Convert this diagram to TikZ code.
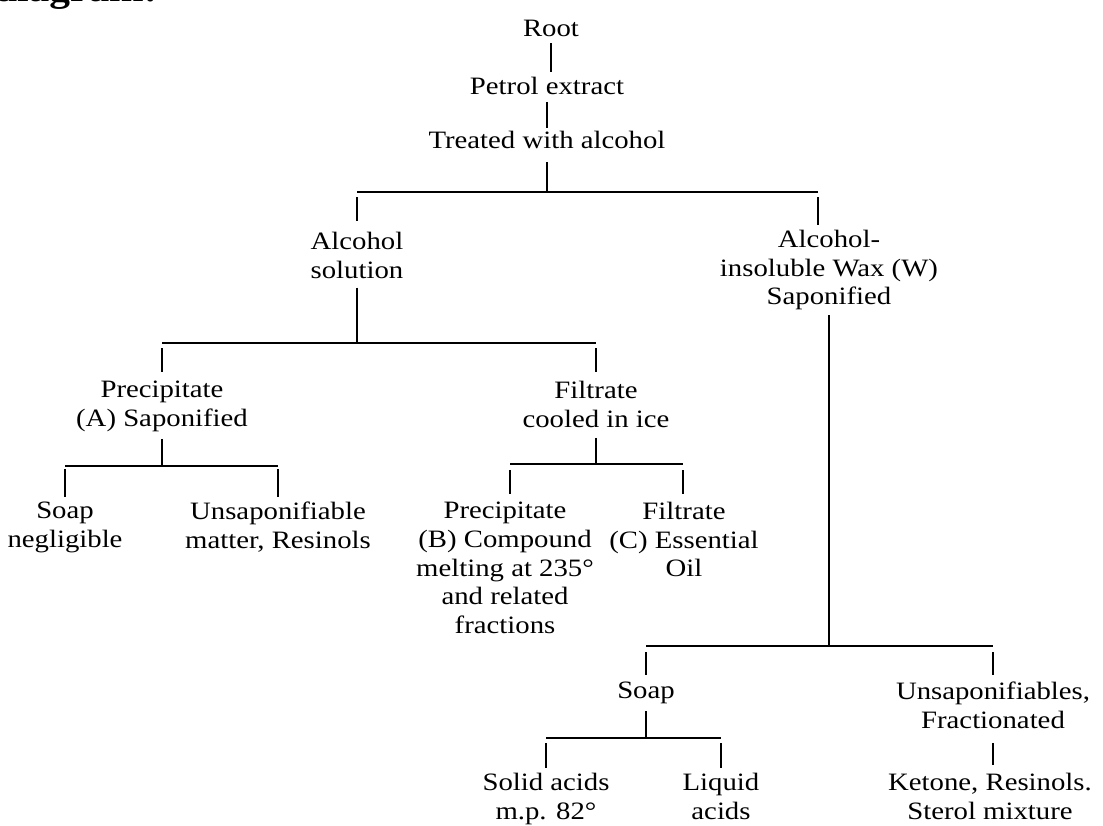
\documentclass[tikz,border=0pt]{standalone}
\usepackage{fontspec}
\setmainfont{Liberation Serif}[FakeStretch=1.15]
\begin{document}
\begin{tikzpicture}[x=1pt,y=-1pt,
  lbl/.style={anchor=north,inner sep=0pt,align=center,font=\fontsize{25}{28.7}\selectfont},
  ln/.style={line width=1.4pt},
  thick line/.style={line width=2.6pt}]
\useasboundingbox (0,0) rectangle (1103,825);
% fragment of the preceding text line
\node[anchor=base west,inner sep=0pt,font=\fontsize{36}{40}\selectfont\bfseries] (frag) at (-6,1) {diagram:};
% nodes
\node[lbl] (root)   at (551,20)  {Root};
\node[lbl] (petrol) at (547,77)  {Petrol extract};
\node[lbl] (treat)  at (547,131) {Treated with alcohol};
\node[lbl] (alc)    at (357,232) {Alcohol\\solution};
\node[lbl] (wax)    at (829,230) {Alcohol-\\insoluble Wax (W)\\Saponified};
\node[lbl] (precA)  at (162,381) {Precipitate\\(A) Saponified};
\node[lbl] (filt)   at (596,381) {Filtrate\\cooled in ice};
\node[lbl] (soapA)  at (65,502)  {Soap\\negligible};
\node[lbl] (unsapA) at (278,502) {Unsaponifiable\\matter, Resinols};
\node[lbl] (precB)  at (505,502) {Precipitate\\(B) Compound\\melting at 235°\\and related\\fractions};
\node[lbl] (filtC)  at (684,502) {Filtrate\\(C) Essential\\Oil};
\node[lbl] (soapW)  at (646,682) {Soap};
\node[lbl] (unsapW) at (993,682) {Unsaponifiables,\\Fractionated};
\node[lbl] (solid)  at (546,773) {Solid acids\\m.p. 82°};
\node[lbl] (liquid) at (721,773) {Liquid\\acids};
\node[lbl] (ketone) at (990,773) {Ketone, Resinols.\\Sterol mixture};
% bar levels
\coordinate (b1) at (552,192);
\coordinate (wL) at (818,192);
\coordinate (b2) at (357,343);
\coordinate (b3) at (162,466);
\coordinate (b4) at (596,464);
\coordinate (b5) at (829,646);
\coordinate (b6) at (646,738);
\coordinate (dB) at (510,464);
\coordinate (dC) at (683,464);
% trunk
\draw[ln] ([yshift=-6pt]root.south) -- ([yshift=5pt]root.south |- petrol.north);
\draw[ln] ([yshift=-7pt]petrol.south) -- ([yshift=3pt]petrol.south |- treat.north);
\draw[ln] ([yshift=-13pt]treat.south) -- (treat.south |- b1);
% level 1
\draw[ln] (alc.north |- b1) -- (wL);
\draw[ln] ([yshift=-5pt]alc.north |- b1) -- ([yshift=11pt]alc.north);
\draw[ln] ([yshift=-5pt]wL) -- ([yshift=5pt]wL |- wax.north);
% alcohol solution
\draw[ln] ([yshift=-9pt]alc.south) -- (b2);
\draw[ln] (precA.north |- b2) -- (filt.north |- b2);
\draw[ln] ([yshift=-5pt]precA.north |- b2) -- ([yshift=9pt]precA.north);
\draw[ln] ([yshift=-5pt]filt.north |- b2) -- ([yshift=9pt]filt.north);
% precipitate A
\draw[ln] ([yshift=-7pt]precA.south) -- (b3);
\draw[ln] (soapA.north |- b3) -- (unsapA.north |- b3);
\draw[ln] ([yshift=-3pt]soapA.north |- b3) -- ([yshift=5pt]soapA.north);
\draw[ln] ([yshift=-3pt]unsapA.north |- b3) -- ([yshift=5pt]unsapA.north);
% filtrate
\draw[ln] ([yshift=-10pt]filt.south) -- (b4);
\draw[ln] (dB) -- (dC);
\draw[ln] ([yshift=-6pt]dB) -- ([yshift=8pt]dB |- precB.north);
\draw[ln] ([yshift=-6pt]dC) -- ([yshift=8pt]dC |- filtC.north);
% wax
\draw[thick line] ([yshift=-5pt]wax.south) -- (b5);
\draw[ln] (soapW.north |- b5) -- (unsapW.north |- b5);
\draw[ln] ([yshift=-6pt]soapW.north |- b5) -- ([yshift=7pt]soapW.north);
\draw[ln] ([yshift=-6pt]unsapW.north |- b5) -- ([yshift=7pt]unsapW.north);
% soap
\draw[ln] ([yshift=-7pt]soapW.south) -- (b6);
\draw[ln] (solid.north |- b6) -- (liquid.north |- b6);
\draw[ln] ([yshift=-5pt]solid.north |- b6) -- ([yshift=5pt]solid.north);
\draw[ln] ([yshift=-5pt]liquid.north |- b6) -- ([yshift=5pt]liquid.north);
% unsaponifiables
\draw[ln] ([yshift=-14pt]unsapW.south) -- ([yshift=8pt]unsapW.south |- ketone.north);
\end{tikzpicture}
\end{document}
